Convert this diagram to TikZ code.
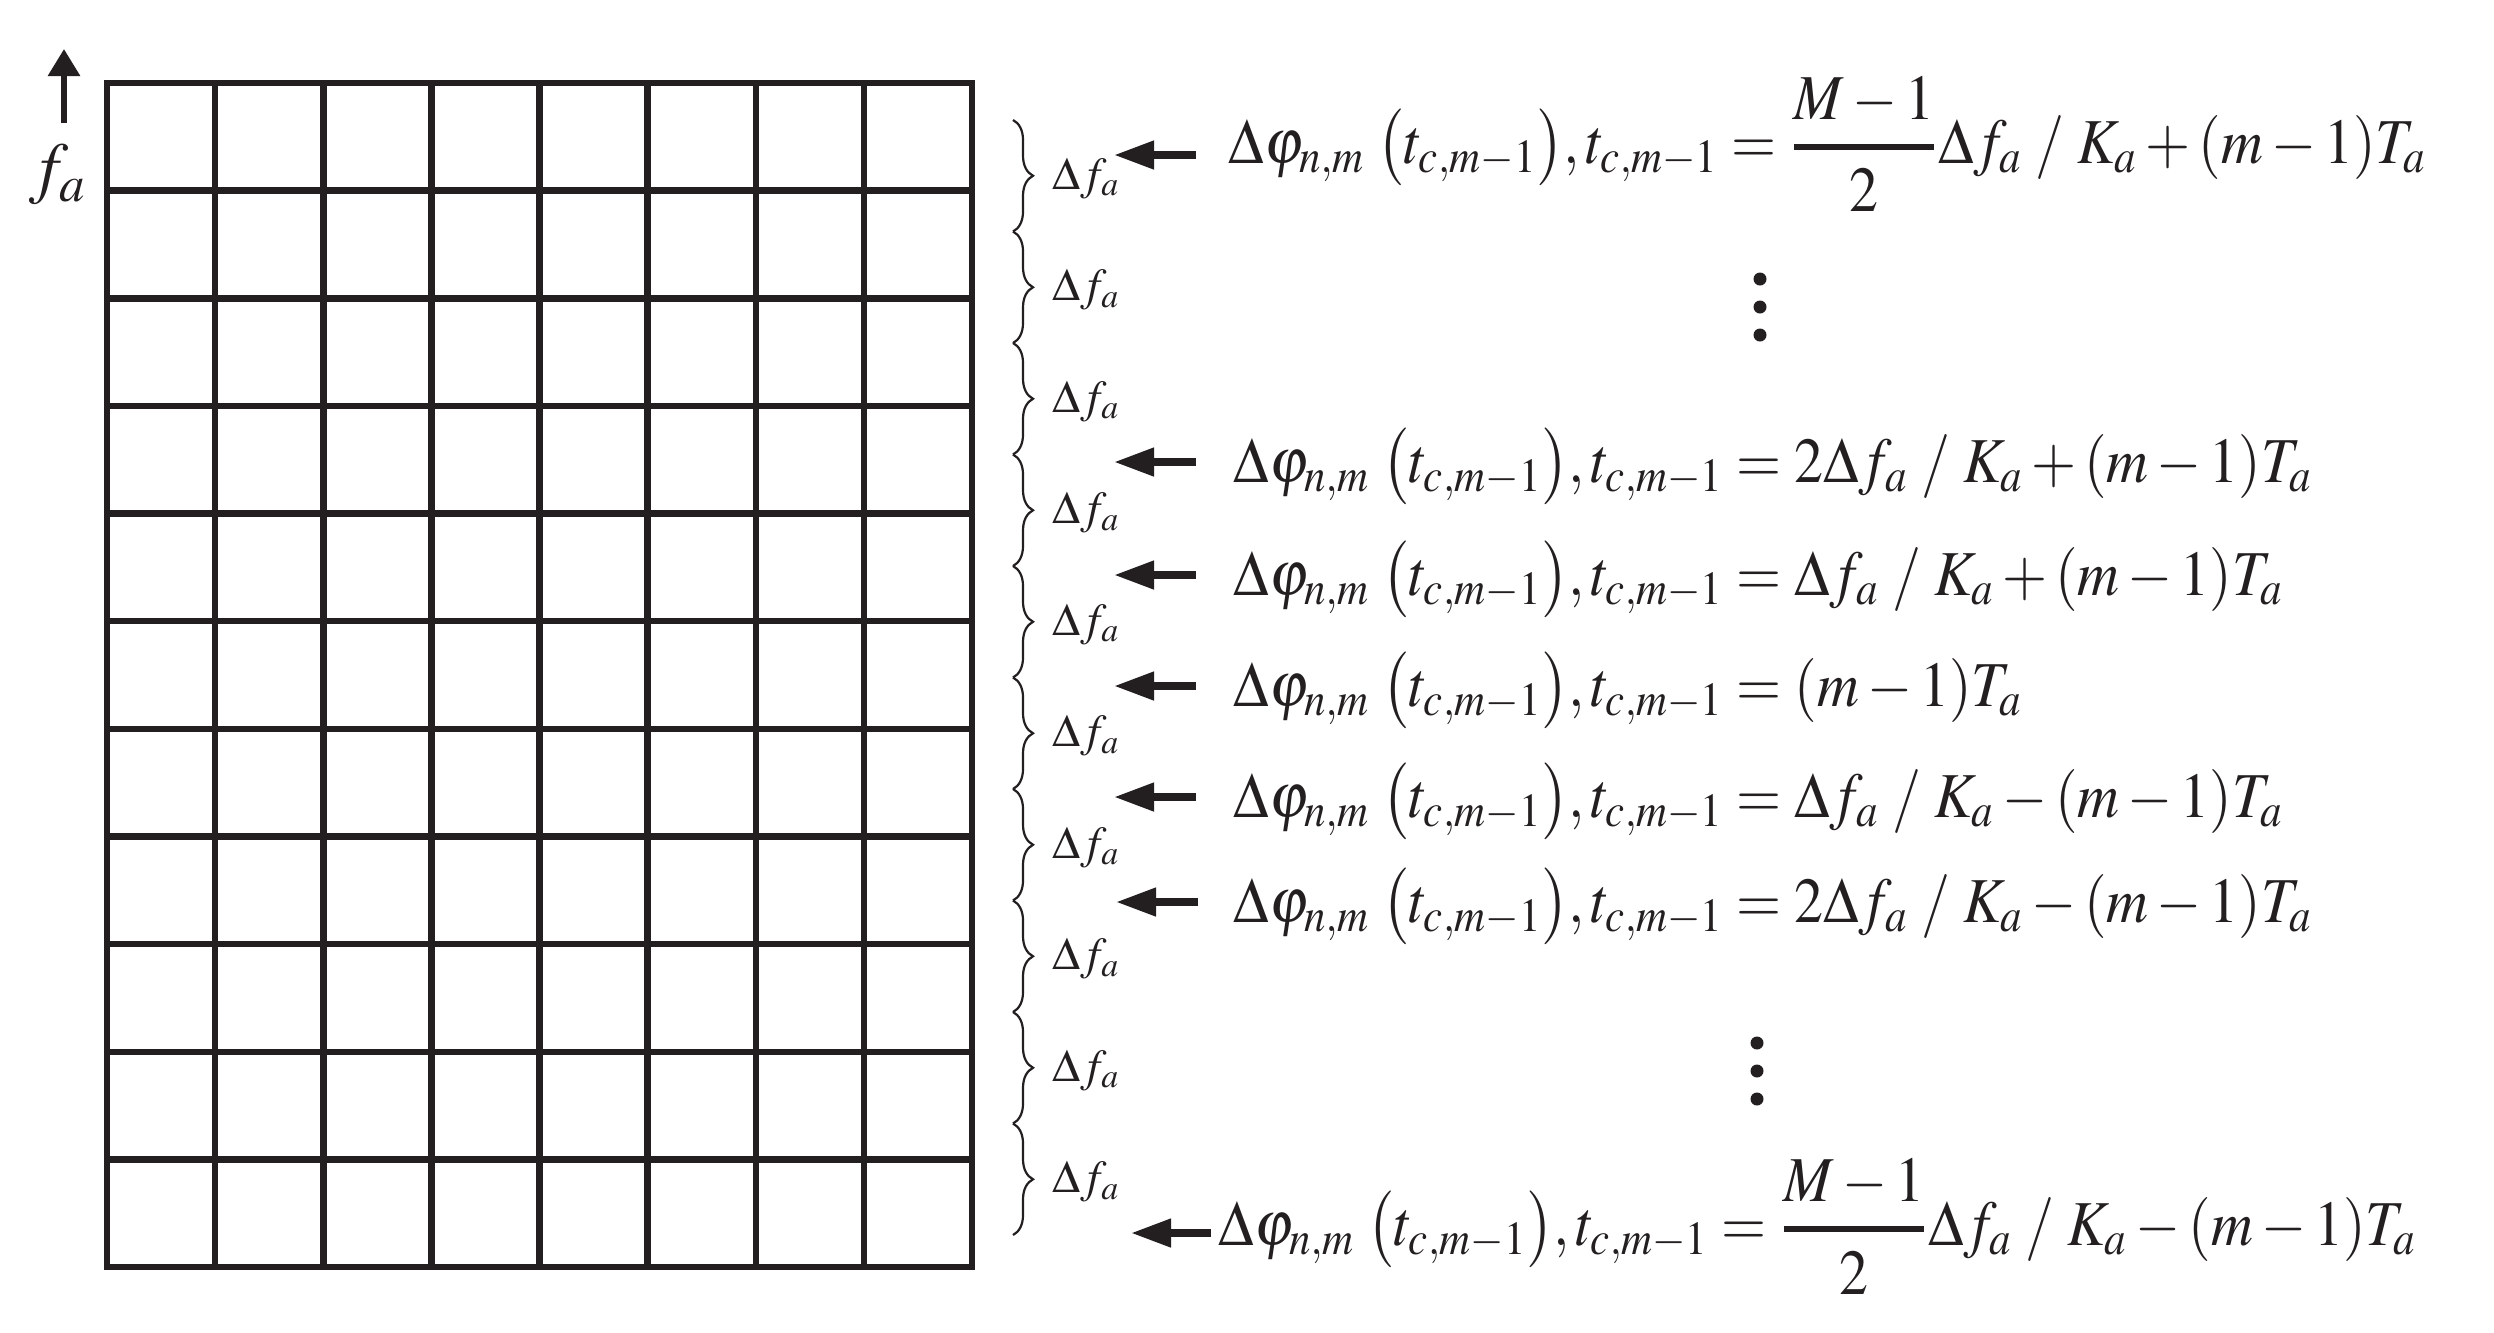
\documentclass[tikz,border=0pt]{standalone}
\usepackage{amsmath}
\usepackage{graphicx}
\usepackage{mathptmx}
\usetikzlibrary{arrows.meta,decorations.pathreplacing}
\definecolor{ink}{RGB}{35,31,32}
\newcommand{\lhsphi}{\Delta\varphi_{n,m}\;\bigl(t_{c,m-1}\bigr),t_{c,m-1}}
\newcommand{\halffrac}{\genfrac{}{}{1.8pt}{0}{M-1}{2}}
\newcommand{\narroweq}[1]{\scalebox{0.905}[1]{$#1$}}
\begin{document}
\begin{tikzpicture}[x=0.01cm,y=-0.01cm]
\useasboundingbox (0,0) rectangle (2494,1332);
\tikzset{
  gridline/.style={draw=ink, line width=0.065cm, line cap=rect},
  bigarrow/.style={draw=ink, line width=0.075cm, -{Triangle[length=0.40cm,width=0.27cm]}},
  axisarrow/.style={draw=ink, line width=0.06cm, -{Triangle[length=0.27cm,width=0.31cm]}},
  bracestyle/.style={draw=ink, line width=0.022cm, decorate, decoration={brace, amplitude=0.2cm}},
  eqn/.style={anchor=base west, inner sep=0pt, font=\fontsize{18.2}{22}\selectfont, text=ink},
  dflabel/.style={anchor=base west, inner sep=0pt, font=\fontsize{13}{16}\selectfont, text=ink},
  axislabel/.style={inner sep=0pt, font=\fontsize{19.5}{23}\selectfont, text=ink},
  dotmark/.style={circle, fill=ink, draw=none, inner sep=0pt, minimum size=0.13cm}
}
% grid
\draw[gridline] (107,83) rectangle (972,1267);
\foreach \i in {1,...,7} \draw[gridline] ({107+\i*108.125},83) -- ({107+\i*108.125},1267);
\foreach \j in {1,...,10} \draw[gridline] (107,{83+\j*107.636}) -- (972,{83+\j*107.636});
% axis
\coordinate (axbase) at (64,123);
\coordinate (axtip) at (64,49);
\draw[axisarrow] (axbase) -- (axtip);
\node[axislabel] (fa) at (58,175) {$f_a$};
% braces and labels
\foreach \k in {0,...,9} {
  \draw[bracestyle] (1013,{120+\k*111.5}) -- (1013,{231.5+\k*111.5});
  \node[dflabel] (df\k) at (1052,{189+\k*111.5}) {$\Delta f_a$};
}
% equations
\node[eqn] (eq1) at (1228,163) {\narroweq{\lhsphi=\halffrac\Delta f_a\;/\;K_a+(m-1)T_a}};
\node[eqn] (eq2) at (1233,482) {\narroweq{\lhsphi=2\Delta f_a\;/\;K_a+(m-1)T_a}};
\node[eqn] (eq3) at (1233,595) {\narroweq{\lhsphi=\Delta f_a\;/\;K_a+(m-1)T_a}};
\node[eqn] (eq4) at (1233,706) {\narroweq{\lhsphi=(m-1)T_a}};
\node[eqn] (eq5) at (1233,817) {\narroweq{\lhsphi=\Delta f_a\;/\;K_a-(m-1)T_a}};
\node[eqn] (eq6) at (1233,922) {\narroweq{\lhsphi=2\Delta f_a\;/\;K_a-(m-1)T_a}};
\node[eqn] (eq7) at (1218,1245) {\narroweq{\lhsphi=\halffrac\Delta f_a\;/\;K_a-(m-1)T_a}};
% arrows
\coordinate (s1) at (1196,155);  \coordinate (e1) at (1114,155);
\coordinate (s2) at (1196,462);  \coordinate (e2) at (1114,462);
\coordinate (s3) at (1196,575);  \coordinate (e3) at (1114,575);
\coordinate (s4) at (1196,686);  \coordinate (e4) at (1114,686);
\coordinate (s5) at (1196,797);  \coordinate (e5) at (1114,797);
\coordinate (s6) at (1198,902);  \coordinate (e6) at (1116,902);
\coordinate (s7) at (1211,1233); \coordinate (e7) at (1131,1233);
\foreach \r in {1,...,7} \draw[bigarrow] (s\r) -- (e\r);
% vertical dots
\node[dotmark] (va1) at (1760,279) {};
\node[dotmark] (va2) at (1760,307) {};
\node[dotmark] (va3) at (1760,335) {};
\node[dotmark] (vb1) at (1757,1043) {};
\node[dotmark] (vb2) at (1757,1071) {};
\node[dotmark] (vb3) at (1757,1099) {};
\end{tikzpicture}
\end{document}
